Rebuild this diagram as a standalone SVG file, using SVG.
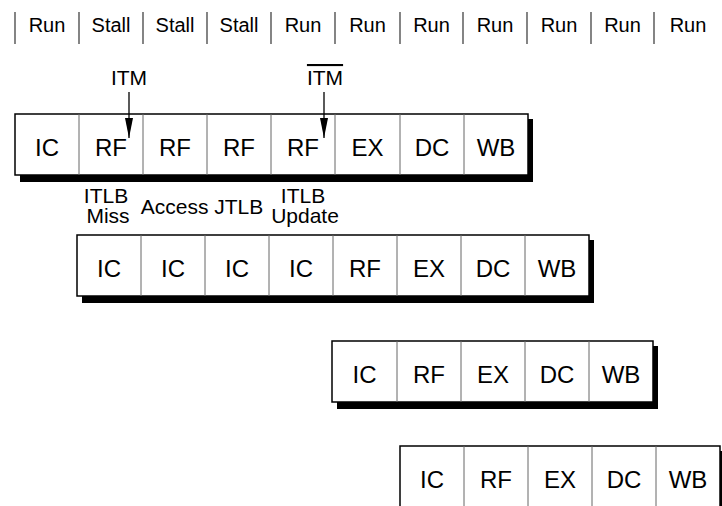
<svg xmlns="http://www.w3.org/2000/svg" width="722" height="506" viewBox="0 0 722 506">
<style>
text{font-family:"Liberation Sans",Arial,sans-serif;fill:#000;text-anchor:middle}
.hdr{font-size:20px}
.lbl{font-size:21px}
.cell{font-size:24px}
.sep{stroke:#333;stroke-width:1.2}
.box{fill:#fff;stroke:#000;stroke-width:1.5}
.shadow{fill:#000}
.div{stroke:#666;stroke-width:1}
.arr{stroke:#000;stroke-width:1.3;fill:none}
</style>
<defs>
<marker id="ah" viewBox="0 0 20 8" refX="20" refY="4" markerWidth="20" markerHeight="8" markerUnits="userSpaceOnUse" orient="auto">
<path d="M0,0 L20,4 L0,8 Z" fill="#000"/>
</marker>
</defs>

<g id="header">
<g class="sep">
<line x1="15" y1="12" x2="15" y2="44"/>
<line x1="79" y1="12" x2="79" y2="44"/>
<line x1="143" y1="12" x2="143" y2="44"/>
<line x1="207" y1="12" x2="207" y2="44"/>
<line x1="271" y1="12" x2="271" y2="44"/>
<line x1="335" y1="12" x2="335" y2="44"/>
<line x1="400" y1="12" x2="400" y2="44"/>
<line x1="463" y1="12" x2="463" y2="44"/>
<line x1="527" y1="12" x2="527" y2="44"/>
<line x1="591" y1="12" x2="591" y2="44"/>
<line x1="654" y1="12" x2="654" y2="44"/>
</g>
<text class="hdr" x="47" y="32">Run</text>
<text class="hdr" x="111" y="32">Stall</text>
<text class="hdr" x="175" y="32">Stall</text>
<text class="hdr" x="239" y="32">Stall</text>
<text class="hdr" x="303" y="32">Run</text>
<text class="hdr" x="367.5" y="32">Run</text>
<text class="hdr" x="431.5" y="32">Run</text>
<text class="hdr" x="495" y="32">Run</text>
<text class="hdr" x="559" y="32">Run</text>
<text class="hdr" x="622.5" y="32">Run</text>
<text class="hdr" x="688" y="32">Run</text>
</g>

<g id="row1">
<rect class="shadow" x="20" y="119" width="513" height="63"/>
<rect class="box" x="15" y="114" width="513" height="61"/>
<g class="div">
<line x1="79" y1="114" x2="79" y2="175"/>
<line x1="143" y1="114" x2="143" y2="175"/>
<line x1="207" y1="114" x2="207" y2="175"/>
<line x1="271" y1="114" x2="271" y2="175"/>
<line x1="335" y1="114" x2="335" y2="175"/>
<line x1="400" y1="114" x2="400" y2="175"/>
<line x1="464" y1="114" x2="464" y2="175"/>
</g>
<text class="cell" x="47" y="156">IC</text>
<text class="cell" x="111" y="156">RF</text>
<text class="cell" x="175" y="156">RF</text>
<text class="cell" x="239" y="156">RF</text>
<text class="cell" x="303" y="156">RF</text>
<text class="cell" x="367.5" y="156">EX</text>
<text class="cell" x="432" y="156">DC</text>
<text class="cell" x="496" y="156">WB</text>
</g>

<g id="row2">
<rect class="shadow" x="82" y="240" width="512" height="63"/>
<rect class="box" x="77" y="235" width="512" height="61"/>
<g class="div">
<line x1="141" y1="235" x2="141" y2="296"/>
<line x1="205" y1="235" x2="205" y2="296"/>
<line x1="269" y1="235" x2="269" y2="296"/>
<line x1="333" y1="235" x2="333" y2="296"/>
<line x1="397" y1="235" x2="397" y2="296"/>
<line x1="461" y1="235" x2="461" y2="296"/>
<line x1="525" y1="235" x2="525" y2="296"/>
</g>
<text class="cell" x="109" y="277">IC</text>
<text class="cell" x="173" y="277">IC</text>
<text class="cell" x="237" y="277">IC</text>
<text class="cell" x="301" y="277">IC</text>
<text class="cell" x="365" y="277">RF</text>
<text class="cell" x="429" y="277">EX</text>
<text class="cell" x="493" y="277">DC</text>
<text class="cell" x="557" y="277">WB</text>
</g>

<g id="row3">
<rect class="shadow" x="337" y="346" width="321" height="63"/>
<rect class="box" x="332" y="341" width="321" height="61"/>
<g class="div">
<line x1="397" y1="341" x2="397" y2="402"/>
<line x1="461" y1="341" x2="461" y2="402"/>
<line x1="525" y1="341" x2="525" y2="402"/>
<line x1="589" y1="341" x2="589" y2="402"/>
</g>
<text class="cell" x="364.5" y="383">IC</text>
<text class="cell" x="429" y="383">RF</text>
<text class="cell" x="493" y="383">EX</text>
<text class="cell" x="557" y="383">DC</text>
<text class="cell" x="621" y="383">WB</text>
</g>

<g id="row4">
<rect class="shadow" x="405" y="451" width="320" height="63"/>
<rect class="box" x="400" y="446" width="320" height="61"/>
<g class="div">
<line x1="464" y1="446" x2="464" y2="507"/>
<line x1="528" y1="446" x2="528" y2="507"/>
<line x1="592" y1="446" x2="592" y2="507"/>
<line x1="656" y1="446" x2="656" y2="507"/>
</g>
<text class="cell" x="432" y="488">IC</text>
<text class="cell" x="496" y="488">RF</text>
<text class="cell" x="560" y="488">EX</text>
<text class="cell" x="624" y="488">DC</text>
<text class="cell" x="688" y="488">WB</text>
</g>

<g id="labels">
<text class="lbl" x="106" y="203">ITLB</text>
<text class="lbl" x="108" y="223">Miss</text>
<text class="lbl" x="202" y="214">Access JTLB</text>
<text class="lbl" x="303" y="203">ITLB</text>
<text class="lbl" x="305" y="223">Update</text>
<text class="lbl" x="129" y="85">ITM</text>
<text class="lbl" x="325" y="85" text-decoration="overline">ITM</text>
</g>

<g id="connectors">
<line class="arr" x1="129" y1="92" x2="129" y2="138" marker-end="url(#ah)"/>
<line class="arr" x1="324" y1="92" x2="324" y2="138" marker-end="url(#ah)"/>
</g>
</svg>
